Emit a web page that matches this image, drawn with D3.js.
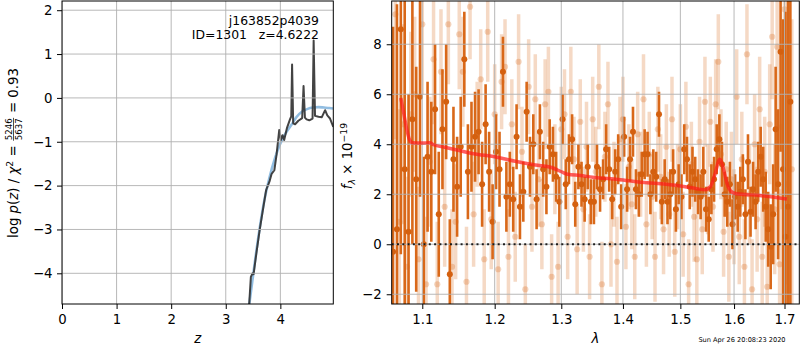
<!DOCTYPE html>
<html>
<head>
<meta charset="utf-8">
<script src="https://cdn.jsdelivr.net/npm/d3@7"></script>
<style>
body { margin:0; background:#fff; }
svg { font-family: "DejaVu Sans", sans-serif; }
</style>
</head>
<body>
<div id="chart"></div>
<script>

// ---- p(z) panel ----
let pzZ   = [3.40, 3.43, 3.46, 3.49, 3.51, 3.56, 3.62, 3.69, 3.74, 3.80, 3.84, 3.89, 3.93, 3.98, 4.01, 4.04, 4.07, 4.12, 4.18, 4.20,
             4.215, 4.235, 4.27, 4.33, 4.40, 4.425, 4.45, 4.48, 4.53, 4.59, 4.61, 4.635, 4.70, 4.76, 4.82, 4.86, 4.91, 4.97];
let pzLog = [-5.0, -4.69, -4.08, -4.00, -4.02, -3.55, -3.02, -2.48, -2.10, -1.91, -1.73, -1.65, -1.30, -0.73, -0.96, -0.85, -0.96, -0.69, -0.48, -0.42,
             0.76, -0.58, -0.60, -0.52, -0.46, 0.27, -0.45, -0.49, -0.51, -0.47, 1.31, -0.41, -0.43, -0.44, -0.28, -0.40, -0.47, -0.66];
let fitZ   = [3.40, 3.50, 3.60, 3.70, 3.80, 3.90, 4.00, 4.10, 4.20, 4.30, 4.40, 4.50, 4.60, 4.70, 4.80, 4.90, 4.97];
let fitLog = [-5.0, -4.05, -3.15, -2.38, -1.82, -1.38, -1.04, -0.80, -0.62, -0.43, -0.31, -0.25, -0.22, -0.21, -0.22, -0.23, -0.24];

let zTicks = [0, 1, 2, 3, 4];
let pzTicks = [2, 1, 0, -1, -2, -3, -4];

let objName = 'j163852p4039';
let objId = 1301;
let zBest = '4.6222';
let chiNum = 5246, chiDen = 5637, chiRed = '0.93';
let stamp = 'Sun Apr 26 20:08:23 2020';

// ---- spectrum panel ----
let darkWave = [1.062,1.067,1.072,1.077,1.082,1.087,1.092,1.097,1.102,1.107,
                1.112,1.117,1.122,1.127,1.132,1.137,1.142,1.147,1.152,1.157,
                1.162,1.167,1.172,1.177,1.182,1.187,1.192,1.197,1.202,1.207,
                1.212,1.217,1.222,1.227,1.232,1.237,1.242,1.247,1.252,1.257,
                1.262,1.267,1.272,1.277,1.282,1.287,1.292,1.297,1.302,1.307,
                1.312,1.317,1.322,1.327,1.332,1.337,1.342,1.347,1.352,1.357,
                1.362,1.367,1.372,1.377,1.382,1.387,1.392,1.397,1.402,1.407,
                1.412,1.417,1.422,1.427,1.432,1.437,1.442,1.447,1.452,1.457,
                1.462,1.467,1.472,1.477,1.482,1.487,1.492,1.497,1.502,1.507,
                1.512,1.517,1.522,1.527,1.532,1.537,1.542,1.547,1.552,1.557,
                1.562,1.567,1.572,1.577,1.582,1.587,1.592,1.597,1.602,1.607,
                1.612,1.617,1.622,1.627,1.632,1.637,1.642,1.647,1.652,1.657,
                1.662,1.667,1.672,1.677,1.682,1.687,1.692,1.697,1.702,1.707,
                1.712];
let darkFlux = [-0.3, 0.6, 8.6, 3.0, 0.5, 5.0, 2.6, 5.9, 0.0, 3.5,
                2.9, 5.4, 1.2, 4.6, 5.7, -1.2, 3.4, 2.3, 3.9, 7.4,
                2.9, 3.9, 4.3, 4.5, 2.4, 4.8, 2.9, 0.9, 3.7, 3.0,
                6.9, 1.9, 2.4, 1.8, 4.3, 1.5, 2.1, 5.3, 3.1, 4.0,
                1.8, 4.5, 3.0, 2.3, 3.9, 3.6, 2.7, 1.7, 5.0, 2.4,
                3.4, 4.2, 1.6, 3.1, 2.4, 1.8, 3.1, 1.7, 1.7, 3.1,
                2.2, 2.6, 3.8, 3.0, 1.8, 2.9, 3.4, 1.5, 4.3, 2.2,
                3.4, 4.5, 2.2, 2.0, 2.8, 3.6, 3.6, 2.0, 2.9, 2.7,
                5.2, 1.7, 2.6, 1.7, 2.0, 2.9, 1.4, 2.4, 1.9, 3.8,
                3.4, 2.3, 2.9, 2.6, 2.1, 1.9, 2.9, 1.4, 1.0, 2.2,
                2.6, 3.8, 4.2, 3.2, 2.0, 1.7, 2.4, 0.8, 1.9, 1.5,
                2.1, 2.6, 1.2, 3.3, 1.3, 2.2, 1.7, 2.9, 3.5, 2.6,
                1.5, 0.6, -0.1, 1.2, 4.6, 2.4, 7.7, 3.0, 0.3, 1.5,
                5.7];
let darkErr = [9, 9, 9, 7, 5.5, 5, 4.5, 4, 3.5, 3,
               2.8, 2.6, 2.5, 2.4, 2.3, 2.2, 2.1, 2.0, 2.0, 1.9,
               1.9, 1.8, 1.8, 1.7, 1.7, 1.6, 1.6, 1.5, 1.5, 1.5,
               1.4, 1.4, 1.3, 1.3, 1.3, 1.3, 1.2, 1.2, 1.2, 1.2,
               1.2, 1.1, 1.1, 1.1, 1.1, 1.1, 1.0, 1.0, 1.0, 1.0,
               1.0, 1.0, 0.9, 0.9, 0.9, 0.9, 0.9, 0.9, 0.9, 0.9,
               0.9, 0.8, 1.0, 0.9, 0.8, 0.9, 1.0, 0.9, 0.8, 0.9,
               0.9, 1.0, 0.8, 0.9, 0.9, 1.0, 0.9, 0.8, 0.9, 1.0,
               0.9, 0.9, 0.8, 0.9, 1.0, 0.9, 0.9, 0.8, 0.9, 1.0,
               0.9, 0.9, 1.0, 0.9, 0.9, 0.9, 1.0, 0.9, 0.9, 1.0,
               0.9, 1.0, 1.0, 0.9, 0.9, 1.0, 0.9, 1.0, 0.9, 1.0,
               1.0, 1.0, 1.0, 1.1, 1.0, 1.1, 1.1, 1.2, 1.2, 1.3,
               1.4, 1.5, 1.7, 2.0, 2.5, 3.0, 4.0, 6.0, 9.0, 9.0,
               9.0];

let lightWave = [1.060,1.065,1.070,1.075,1.080,1.085,1.090,1.095,1.100,1.105,
                 1.110,1.115,1.120,1.125,1.130,1.135,1.140,1.145,1.150,1.155,
                 1.160,1.165,1.170,1.175,1.180,1.185,1.190,1.195,1.200,1.205,
                 1.210,1.215,1.220,1.225,1.230,1.235,1.240,1.245,1.250,1.255,
                 1.260,1.265,1.270,1.275,1.280,1.285,1.290,1.295,1.300,1.305,
                 1.310,1.315,1.320,1.325,1.330,1.335,1.340,1.345,1.350,1.355,
                 1.360,1.365,1.370,1.375,1.380,1.385,1.390,1.395,1.400,1.405,
                 1.410,1.415,1.420,1.425,1.430,1.435,1.440,1.445,1.450,1.455,
                 1.460,1.465,1.470,1.475,1.480,1.485,1.490,1.495,1.500,1.505,
                 1.510,1.515,1.520,1.525,1.530,1.535,1.540,1.545,1.550,1.555,
                 1.560,1.565,1.570,1.575,1.580,1.585,1.590,1.595,1.600,1.605,
                 1.610,1.615,1.620,1.625,1.630,1.635,1.640,1.645,1.650,1.655,
                 1.660,1.665,1.670,1.675,1.680,1.685,1.690,1.695,1.700,1.705,
                 1.710,1.715];
let lightFlux = [2.0, 9.2, 0.9, 4.8, -0.9, 5.2, 6.0, -0.6, 8.8, -1.6,
                 3.3, 7.4, -1.6, 6.9, 1.5, 8.8, -0.9, 0.9, 8.4, 6.9,
                 -1.5, 9.5, 1.2, 4.4, 6.6, -0.6, 8.5, 1.0, 5.2, -1.0,
                 6.5, 7.1, -0.5, 4.8, 0.3, 7.3, 3.7, -1.8, 6.3, 1.5,
                 5.8, 2.6, 0.8, 5.6, 6.1, -1.3, 3.0, -0.9, 4.6, 5.2,
                 0.3, 6.1, 3.4, -0.2, 4.9, 1.4, 3.9, -0.5, 5.0, 2.9,
                 6.3, -1.6, 3.5, 5.6, 0.0, 2.4, -0.7, 4.2, 5.0, 0.7,
                 3.1, 1.6, -0.5, 4.4, 2.8, 5.8, 0.8, 3.6, 1.9, -0.5,
                 4.6, 2.7, 0.6, 3.9, 1.2, 5.0, -0.3, 2.3, 3.8, 0.4,
                 4.7, -1.6, 3.2, 1.1, -0.6, 4.1, 0.6, 5.7, 2.2, 4.9,
                 1.5, 5.6, 7.3, 3.6, 0.5, 3.0, -0.5, 2.6, 1.1, 5.9,
                 0.3, 3.4, -0.9, 7.6, 2.0, -1.8, 4.0, 1.0, 5.4, -0.5,
                 2.9, -1.7, 4.8, 8.3, 1.4, 7.9, -0.8, 4.7, 9.4, 2.4,
                 6.0, 3.0];
let lightErr = [6, 5, 4.5, 4, 3.6, 3.3, 3.1, 2.9, 2.8, 2.7,
                2.6, 2.6, 2.5, 2.5, 2.4, 2.4, 2.3, 2.3, 2.2, 2.2,
                2.2, 2.1, 2.1, 2.1, 2.0, 2.0, 2.0, 2.0, 2.0, 1.9,
                1.9, 1.9, 1.9, 1.8, 1.8, 1.9, 1.8, 1.8, 1.9, 1.8,
                1.8, 1.9, 1.8, 1.8, 1.8, 1.7, 1.8, 1.8, 1.7, 1.8,
                1.7, 1.8, 1.7, 1.8, 1.7, 1.7, 1.8, 1.7, 1.7, 1.8,
                1.7, 1.7, 1.8, 1.7, 1.7, 1.7, 1.8, 1.7, 1.7, 1.7,
                1.7, 1.8, 1.7, 1.7, 1.7, 1.8, 1.7, 1.7, 1.7, 1.8,
                1.7, 1.7, 1.8, 1.7, 1.7, 1.7, 1.8, 1.7, 1.8, 1.7,
                1.8, 1.8, 1.7, 1.8, 1.8, 1.8, 1.8, 1.8, 1.8, 1.8,
                1.8, 1.8, 1.9, 1.8, 1.8, 1.9, 1.8, 1.9, 1.9, 1.9,
                1.9, 1.9, 1.9, 2.0, 2.0, 2.0, 2.0, 2.1, 2.1, 2.2,
                2.2, 2.3, 2.4, 2.5, 2.6, 2.8, 3.0, 3.3, 3.6, 4.0,
                5.0, 6.0];

let modelWave = [1.072, 1.076, 1.080, 1.083, 1.087, 1.100, 1.110, 1.115, 1.130, 1.150, 1.170, 1.200, 1.230, 1.260, 1.285,
                 1.300, 1.310, 1.330, 1.350, 1.380, 1.400, 1.430, 1.460, 1.500, 1.530, 1.545, 1.555, 1.563, 1.573, 1.580,
                 1.587, 1.595, 1.605, 1.650, 1.705];
let modelFlux = [5.85, 5.2, 4.55, 4.2, 4.06, 4.05, 4.06, 3.98, 3.88, 3.75, 3.62, 3.50, 3.32, 3.17, 3.07,
                 2.90, 2.80, 2.75, 2.68, 2.62, 2.57, 2.48, 2.43, 2.33, 2.22, 2.18, 2.30, 2.75, 3.40, 3.00,
                 2.40, 2.10, 2.02, 1.95, 1.81];

let lamTicks = [1.1, 1.2, 1.3, 1.4, 1.5, 1.6, 1.7];
let fluxTicks = [-2, 0, 2, 4, 6, 8];

// ---- layout ----
let dim = { width: 800, height: 350 };
let boxL = { left: 62, right: 333.3, top: 1, bottom: 304 };
let boxR = { left: 391.7, right: 799.3, top: 1, bottom: 304 };

let orange = '#d96819';
let gridColor = '#b0b0b0';
let tickFont = 13.3;

let svg = d3.select('#chart').append('svg')
    .attr('width', dim.width)
    .attr('height', dim.height);

let scaleZ = d3.scaleLinear().domain([0, 4.97]).range([boxL.left, boxL.right]);
let scaleP = d3.scaleLinear().domain([-4.7, 2.21]).range([boxL.bottom, boxL.top]);
let scaleLam = d3.scaleLog().domain([1.0603, 1.7305]).range([boxR.left, boxR.right]);
let scaleF = d3.scaleLinear().domain([-2.39, 9.73]).range([boxR.bottom, boxR.top]);

let defs = svg.append('defs');
defs.append('clipPath').attr('id', 'clipL').append('rect')
    .attr('x', boxL.left).attr('y', boxL.top)
    .attr('width', boxL.right - boxL.left).attr('height', boxL.bottom - boxL.top);
defs.append('clipPath').attr('id', 'clipR').append('rect')
    .attr('x', boxR.left).attr('y', boxR.top)
    .attr('width', boxR.right - boxR.left).attr('height', boxR.bottom - boxR.top);

function styleAxis(g) {
    g.select('.domain').remove();
    g.selectAll('text').attr('font-size', tickFont).attr('font-family', 'DejaVu Sans').attr('fill', '#000');
    g.selectAll('line').attr('stroke', '#000');
}

function drawGrid(g, xs, ys, sx, sy, box) {
    g.selectAll('.gx').data(xs).join('line').attr('class', 'gx')
        .attr('x1', d => sx(d)).attr('x2', d => sx(d))
        .attr('y1', box.top).attr('y2', box.bottom)
        .attr('stroke', gridColor).attr('stroke-width', 0.9);
    g.selectAll('.gy').data(ys).join('line').attr('class', 'gy')
        .attr('y1', d => sy(d)).attr('y2', d => sy(d))
        .attr('x1', box.left).attr('x2', box.right)
        .attr('stroke', gridColor).attr('stroke-width', 0.9);
}

// ================= left panel =================
let left = svg.append('g').attr('clip-path', 'url(#clipL)');

let fitLine = d3.line().x(d => scaleZ(d[0])).y(d => scaleP(d[1])).curve(d3.curveMonotoneX);
left.append('path')
    .datum(d3.zip(fitZ, fitLog))
    .attr('d', fitLine)
    .attr('fill', 'none')
    .attr('stroke', '#7eb2dc')
    .attr('stroke-opacity', 0.85)
    .attr('stroke-width', 2.6);

let pzLine = d3.line().x(d => scaleZ(d[0])).y(d => scaleP(d[1]));
left.append('path')
    .datum(d3.zip(pzZ, pzLog))
    .attr('d', pzLine)
    .attr('fill', 'none')
    .attr('stroke', '#333')
    .attr('stroke-opacity', 0.92)
    .attr('stroke-width', 2)
    .attr('stroke-linejoin', 'round');

drawGrid(left, zTicks, pzTicks, scaleZ, scaleP, boxL);

svg.append('g')
    .attr('transform', `translate(0,${boxL.bottom})`)
    .call(d3.axisBottom(scaleZ).tickValues(zTicks).tickSize(5).tickPadding(5.5).tickFormat(d3.format('d')))
    .call(styleAxis);

svg.append('g')
    .attr('transform', `translate(${boxL.left},0)`)
    .call(d3.axisLeft(scaleP).tickValues(pzTicks).tickSize(5).tickPadding(4.5).tickFormat(d3.format('d')))
    .call(styleAxis);

svg.append('rect')
    .attr('x', boxL.left).attr('y', boxL.top)
    .attr('width', boxL.right - boxL.left).attr('height', boxL.bottom - boxL.top)
    .attr('fill', 'none').attr('stroke', '#000').attr('stroke-width', 1);

svg.append('text')
    .attr('x', 319).attr('y', 24.5)
    .attr('text-anchor', 'end').attr('font-size', 12.4)
    .text(objName);
svg.append('text')
    .attr('x', 319).attr('y', 38.5)
    .attr('text-anchor', 'end').attr('font-size', 12.4)
    .style('white-space', 'pre')
    .text(`ID=${objId}   z=${zBest}`);

svg.append('text')
    .attr('x', (boxL.left + boxL.right) / 2).attr('y', 343)
    .attr('text-anchor', 'middle').attr('font-size', 13.3)
    .attr('font-style', 'italic')
    .text('z');

// y label with the chi2 fraction
let ylab = svg.append('g').attr('transform', 'translate(18,153) rotate(-90)');
let lab1 = ylab.append('text').attr('font-size', 13.3);
lab1.append('tspan').text('log ');
lab1.append('tspan').attr('font-style', 'italic').text('p');
lab1.append('tspan').text('(');
lab1.append('tspan').attr('font-style', 'italic').text('z');
lab1.append('tspan').text(') / ');
lab1.append('tspan').attr('font-style', 'italic').text('χ');
lab1.append('tspan').attr('font-size', 9.3).attr('dy', -5.5).text('2');
lab1.append('tspan').attr('dy', 5.5).style('white-space', 'pre').text(' = ');
let num = ylab.append('text').attr('font-size', 8.6).attr('text-anchor', 'middle').text(chiNum);
let den = ylab.append('text').attr('font-size', 8.6).attr('text-anchor', 'middle').text(chiDen);
let lab3 = ylab.append('text').attr('font-size', 13.3).style('white-space', 'pre').text(' = ' + chiRed);

let w1 = lab1.node().getComputedTextLength();
let wf = Math.max(num.node().getComputedTextLength(), den.node().getComputedTextLength()) + 2;
let w3 = lab3.node().getComputedTextLength();
let x0 = -(w1 + wf + w3) / 2;
lab1.attr('x', x0);
num.attr('x', x0 + w1 + wf / 2).attr('y', -6.2);
den.attr('x', x0 + w1 + wf / 2).attr('y', 3.6);
ylab.append('line')
    .attr('x1', x0 + w1 + 0.5).attr('x2', x0 + w1 + wf - 0.5)
    .attr('y1', -4.5).attr('y2', -4.5)
    .attr('stroke', '#000').attr('stroke-width', 0.7);
lab3.attr('x', x0 + w1 + wf);

// ================= right panel =================
let right = svg.append('g').attr('clip-path', 'url(#clipR)');

let lightData = lightWave.map((w, i) => ({ w: w, f: lightFlux[i], e: lightErr[i] }));
let darkData = darkWave.map((w, i) => ({ w: w, f: darkFlux[i], e: darkErr[i] }));

right.selectAll('.lbar').data(lightData).join('line').attr('class', 'lbar')
    .attr('x1', d => scaleLam(d.w)).attr('x2', d => scaleLam(d.w))
    .attr('y1', d => scaleF(d.f - d.e)).attr('y2', d => scaleF(d.f + d.e))
    .attr('stroke', orange).attr('stroke-opacity', 0.25).attr('stroke-width', 3.5);
right.selectAll('.ldot').data(lightData).join('circle').attr('class', 'ldot')
    .attr('cx', d => scaleLam(d.w)).attr('cy', d => scaleF(d.f))
    .attr('r', 3.1)
    .attr('fill', orange).attr('fill-opacity', 0.28);

right.selectAll('.dbar').data(darkData).join('line').attr('class', 'dbar')
    .attr('x1', d => scaleLam(d.w)).attr('x2', d => scaleLam(d.w))
    .attr('y1', d => scaleF(d.f - d.e)).attr('y2', d => scaleF(d.f + d.e))
    .attr('stroke', orange).attr('stroke-width', 2.6);
right.selectAll('.ddot').data(darkData).join('circle').attr('class', 'ddot')
    .attr('cx', d => scaleLam(d.w)).attr('cy', d => scaleF(d.f))
    .attr('r', 3.0)
    .attr('fill', '#d4600f');

drawGrid(right, lamTicks, fluxTicks, scaleLam, scaleF, boxR);

let modelLine = d3.line().x(d => scaleLam(d[0])).y(d => scaleF(d[1])).curve(d3.curveMonotoneX);
right.append('path')
    .datum(d3.zip(modelWave, modelFlux))
    .attr('d', modelLine)
    .attr('fill', 'none')
    .attr('stroke', '#ff1a1a')
    .attr('stroke-opacity', 0.7)
    .attr('stroke-width', 3.5)
    .attr('stroke-linejoin', 'round');

right.append('line')
    .attr('x1', boxR.left).attr('x2', boxR.right)
    .attr('y1', scaleF(0)).attr('y2', scaleF(0))
    .attr('stroke', '#000').attr('stroke-opacity', 0.85)
    .attr('stroke-width', 2)
    .attr('stroke-dasharray', '2,3.3');

svg.append('g')
    .attr('transform', `translate(0,${boxR.bottom})`)
    .call(d3.axisBottom(scaleLam).tickValues(lamTicks).tickSize(5).tickPadding(5.5).tickFormat(d => d.toFixed(1)))
    .call(styleAxis);

svg.append('g')
    .attr('transform', `translate(${boxR.left},0)`)
    .call(d3.axisLeft(scaleF).tickValues(fluxTicks).tickSize(5).tickPadding(5).tickFormat(d3.format('d')))
    .call(styleAxis);

svg.append('rect')
    .attr('x', boxR.left).attr('y', boxR.top)
    .attr('width', boxR.right - boxR.left).attr('height', boxR.bottom - boxR.top)
    .attr('fill', 'none').attr('stroke', '#000').attr('stroke-width', 1);

svg.append('text')
    .attr('x', (boxR.left + boxR.right) / 2).attr('y', 343)
    .attr('text-anchor', 'middle').attr('font-size', 13.3)
    .attr('font-style', 'italic')
    .text('λ');

let flab = svg.append('text')
    .attr('transform', 'translate(352,156) rotate(-90)')
    .attr('text-anchor', 'middle')
    .attr('font-size', 13.3);
flab.append('tspan').attr('font-style', 'italic').text('f');
flab.append('tspan').attr('font-style', 'italic').attr('font-size', 9.3).attr('dy', 3).text('λ');
flab.append('tspan').attr('dy', -3).style('white-space', 'pre').text(' × 10');
flab.append('tspan').attr('font-size', 9.3).attr('dy', -5.5).text('−19');

svg.append('text')
    .attr('x', 742).attr('y', 342)
    .attr('text-anchor', 'middle')
    .attr('font-size', 6.6)
    .text(stamp);

</script>
</body>
</html>
